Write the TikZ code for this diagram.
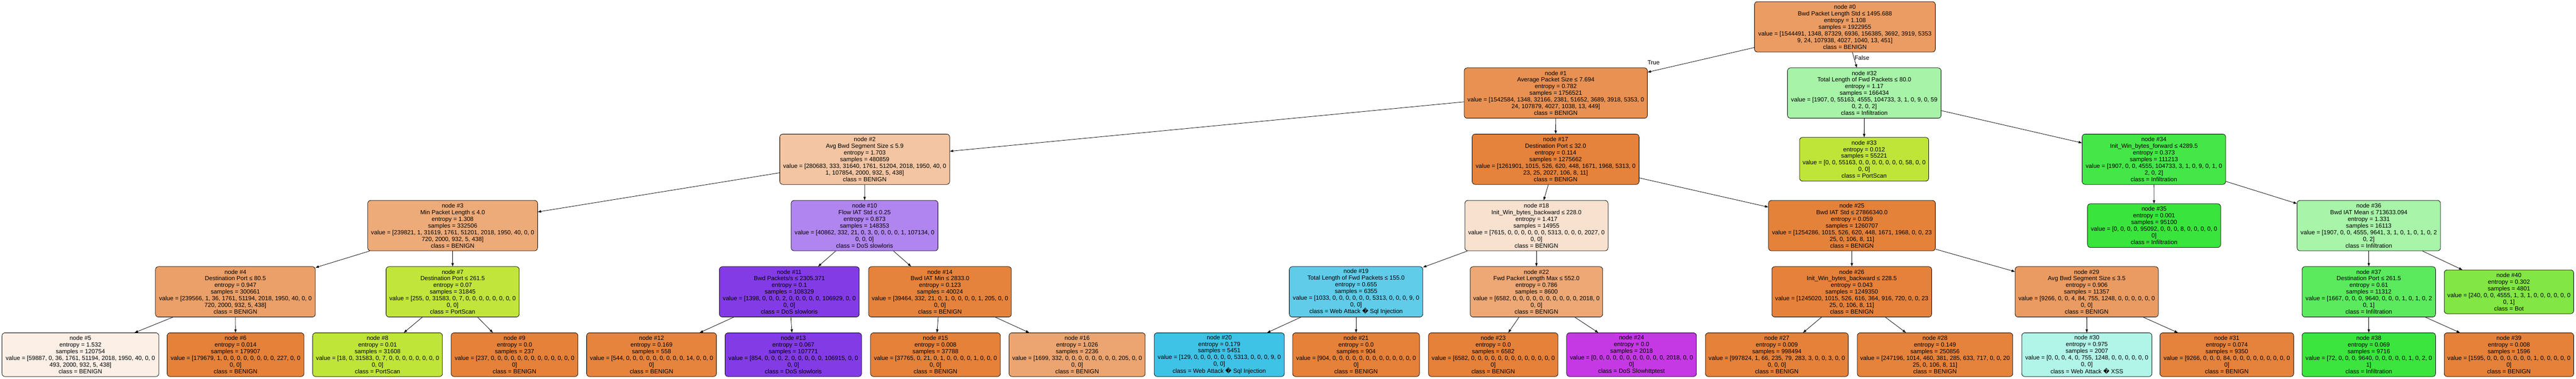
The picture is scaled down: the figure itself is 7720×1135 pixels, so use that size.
\documentclass[tikz,border=0pt]{standalone}
\usepackage{fontspec}
\setmainfont{Liberation Sans}
\newfontfamily\djv{DejaVu Sans}
\usetikzlibrary{arrows.meta}
\definecolor{k0}{RGB}{229,129,57}
\definecolor{k2}{RGB}{192,229,57}
\definecolor{k3}{RGB}{123,229,57}
\definecolor{k4}{RGB}{57,229,60}
\definecolor{k6}{RGB}{57,229,197}
\definecolor{k7}{RGB}{57,192,229}
\definecolor{k10}{RGB}{129,57,229}
\definecolor{k11}{RGB}{197,57,229}
\newcommand\mkcol[5]{\edef\mkcoltmp{\fpeval{round(100*(#3-#4)/(#5-#4),2)}}\colorlet{#1}{#2!\mkcoltmp!white}}
\mkcol{f0}{k0}{1544491}{156385}{1922955}
\mkcol{f1}{k0}{1542584}{107879}{1756521}
\mkcol{f2}{k0}{280683}{107854}{480859}
\mkcol{f3}{k0}{239821}{51201}{332506}
\mkcol{f4}{k0}{239566}{51194}{300661}
\mkcol{f5}{k0}{59887}{51194}{120754}
\mkcol{f6}{k0}{179679}{227}{179907}
\mkcol{f7}{k2}{31583}{255}{31845}
\mkcol{f8}{k2}{31583}{18}{31608}
\mkcol{f9}{k0}{237}{0}{237}
\mkcol{f10}{k10}{107134}{40862}{148353}
\mkcol{f11}{k10}{106929}{1398}{108329}
\mkcol{f12}{k0}{544}{14}{558}
\mkcol{f13}{k10}{106915}{854}{107771}
\mkcol{f14}{k0}{39464}{332}{40024}
\mkcol{f15}{k0}{37765}{21}{37788}
\mkcol{f16}{k0}{1699}{332}{2236}
\mkcol{f17}{k0}{1261901}{5313}{1275662}
\mkcol{f18}{k0}{7615}{5313}{14955}
\mkcol{f19}{k7}{5313}{1033}{6355}
\mkcol{f20}{k7}{5313}{129}{5451}
\mkcol{f21}{k0}{904}{0}{904}
\mkcol{f22}{k0}{6582}{2018}{8600}
\mkcol{f23}{k0}{6582}{0}{6582}
\mkcol{f24}{k11}{2018}{0}{2018}
\mkcol{f25}{k0}{1254286}{1968}{1260707}
\mkcol{f26}{k0}{1245020}{1015}{1249350}
\mkcol{f27}{k0}{997824}{283}{998494}
\mkcol{f28}{k0}{247196}{1014}{250856}
\mkcol{f29}{k0}{9266}{1248}{11357}
\mkcol{f30}{k6}{1248}{755}{2007}
\mkcol{f31}{k0}{9266}{84}{9350}
\mkcol{f32}{k4}{104733}{55163}{166434}
\mkcol{f33}{k2}{55163}{58}{55221}
\mkcol{f34}{k4}{104733}{4555}{111213}
\mkcol{f35}{k4}{95092}{8}{95100}
\mkcol{f36}{k4}{9641}{4555}{16113}
\mkcol{f37}{k4}{9640}{1667}{11312}
\mkcol{f38}{k4}{9640}{72}{9716}
\mkcol{f39}{k0}{1595}{1}{1596}
\mkcol{f40}{k3}{4555}{240}{4801}
\newcommand\rep{{\djv\symbol{"FFFD}}}
\tikzset{
  tn/.style={draw=black, line width=1.2pt, rounded corners=9pt, align=center,
    inner xsep=3pt, inner ysep=0pt, font=\fontsize{18}{20}\selectfont},
  s7/.style={minimum height=151pt},
  s6/.style={minimum height=131pt},
  conn/.style={draw=black, line width=1.2pt, -{Triangle[length=10pt,width=7pt]}},
  lbl/.style={font=\fontsize{18}{20}\selectfont, inner sep=0pt}
}
\begin{document}
\begin{tikzpicture}[x=1pt,y=-1pt]
\useasboundingbox (0,0) rectangle (7720,1135);
% row 0
\node[tn,s7,fill=f0,minimum width=542pt] (n0) at (5529,80.5) {node \#0\\Bwd Packet Length Std ≤ 1495.688\\entropy = 1.108\\samples = 1922955\\value = [1544491, 1348, 87329, 6936, 156385, 3692, 3919, 5353\\9, 24, 107938, 4027, 1040, 13, 451]\\class = BENIGN};
% row 1
\node[tn,s7,fill=f1,minimum width=549pt] (n1) at (4662.5,279) {node \#1\\Average Packet Size ≤ 7.694\\entropy = 0.782\\samples = 1756521\\value = [1542584, 1348, 32166, 2381, 51652, 3689, 3918, 5353, 0\\24, 107879, 4027, 1038, 13, 449]\\class = BENIGN};
\node[tn,s7,fill=f32,minimum width=460pt] (n32) at (5587,279) {node \#32\\Total Length of Fwd Packets ≤ 80.0\\entropy = 1.17\\samples = 166434\\value = [1907, 0, 55163, 4555, 104733, 3, 1, 0, 9, 0, 59\\0, 2, 0, 2]\\class = Infiltration};
% row 2
\node[tn,s7,fill=f2,minimum width=509pt] (n2) at (2591.5,477.5) {node \#2\\Avg Bwd Segment Size ≤ 5.9\\entropy = 1.703\\samples = 480859\\value = [280683, 333, 31640, 1761, 51204, 2018, 1950, 40, 0\\1, 107854, 2000, 932, 5, 438]\\class = BENIGN};
\node[tn,s7,fill=f17,minimum width=500pt] (n17) at (4662,477.5) {node \#17\\Destination Port ≤ 32.0\\entropy = 0.114\\samples = 1275662\\value = [1261901, 1015, 526, 620, 448, 1671, 1968, 5313, 0\\23, 25, 2027, 106, 8, 11]\\class = BENIGN};
\node[tn,s6,fill=f33,minimum width=387pt] (n33) at (5586.5,477.5) {node \#33\\entropy = 0.012\\samples = 55221\\value = [0, 0, 55163, 0, 0, 0, 0, 0, 0, 0, 58, 0, 0\\0, 0]\\class = PortScan};
\node[tn,s7,fill=f34,minimum width=430pt] (n34) at (6455,477.5) {node \#34\\Init\_Win\_bytes\_forward ≤ 4289.5\\entropy = 0.373\\samples = 111213\\value = [1907, 0, 0, 4555, 104733, 3, 1, 0, 9, 0, 1, 0\\2, 0, 2]\\class = Infiltration};
% row 3
\node[tn,s7,fill=f3,minimum width=509pt] (n3) at (1356.5,676.5) {node \#3\\Min Packet Length ≤ 4.0\\entropy = 1.308\\samples = 332506\\value = [239821, 1, 31619, 1761, 51201, 2018, 1950, 40, 0, 0\\720, 2000, 932, 5, 438]\\class = BENIGN};
\node[tn,s7,fill=f10,minimum width=440pt] (n10) at (2591,676.5) {node \#10\\Flow IAT Std ≤ 0.25\\entropy = 0.873\\samples = 148353\\value = [40862, 332, 21, 0, 3, 0, 0, 0, 0, 1, 107134, 0\\0, 0, 0]\\class = DoS slowloris};
\node[tn,s7,fill=f18,minimum width=429pt] (n18) at (4604.5,676.5) {node \#18\\Init\_Win\_bytes\_backward ≤ 228.0\\entropy = 1.417\\samples = 14955\\value = [7615, 0, 0, 0, 0, 0, 0, 5313, 0, 0, 0, 2027, 0\\0, 0]\\class = BENIGN};
\node[tn,s7,fill=f25,minimum width=500pt] (n25) at (5550,676.5) {node \#25\\Bwd IAT Std ≤ 27866340.0\\entropy = 0.059\\samples = 1260707\\value = [1254286, 1015, 526, 620, 448, 1671, 1968, 0, 0, 23\\25, 0, 106, 8, 11]\\class = BENIGN};
\node[tn,s6,fill=f35,minimum width=399pt] (n35) at (6455.5,676.5) {node \#35\\entropy = 0.001\\samples = 95100\\value = [0, 0, 0, 0, 95092, 0, 0, 0, 8, 0, 0, 0, 0, 0\\0]\\class = Infiltration};
\node[tn,s7,fill=f36,minimum width=430pt] (n36) at (7099,676.5) {node \#36\\Bwd IAT Mean ≤ 713633.094\\entropy = 1.331\\samples = 16113\\value = [1907, 0, 0, 4555, 9641, 3, 1, 0, 1, 0, 1, 0, 2\\0, 2]\\class = Infiltration};
% row 4
\node[tn,s7,fill=f4,minimum width=479pt] (n4) at (705.5,875) {node \#4\\Destination Port ≤ 80.5\\entropy = 0.947\\samples = 300661\\value = [239566, 1, 36, 1761, 51194, 2018, 1950, 40, 0, 0\\720, 2000, 932, 5, 438]\\class = BENIGN};
\node[tn,s7,fill=f7,minimum width=399pt] (n7) at (1356.5,875) {node \#7\\Destination Port ≤ 261.5\\entropy = 0.07\\samples = 31845\\value = [255, 0, 31583, 0, 7, 0, 0, 0, 0, 0, 0, 0, 0\\0, 0]\\class = PortScan};
\node[tn,s7,fill=f11,minimum width=419pt] (n11) at (2365.5,875) {node \#11\\Bwd Packets/s ≤ 2305.371\\entropy = 0.1\\samples = 108329\\value = [1398, 0, 0, 0, 2, 0, 0, 0, 0, 0, 106929, 0, 0\\0, 0]\\class = DoS slowloris};
\node[tn,s7,fill=f14,minimum width=428pt] (n14) at (2817,875) {node \#14\\Bwd IAT Min ≤ 2833.0\\entropy = 0.123\\samples = 40024\\value = [39464, 332, 21, 0, 1, 0, 0, 0, 0, 1, 205, 0, 0\\0, 0]\\class = BENIGN};
\node[tn,s7,fill=f19,minimum width=400pt] (n19) at (4064,875) {node \#19\\Total Length of Fwd Packets ≤ 155.0\\entropy = 0.655\\samples = 6355\\value = [1033, 0, 0, 0, 0, 0, 0, 5313, 0, 0, 0, 9, 0\\0, 0]\\class = Web Attack \rep{} Sql Injection};
\node[tn,s7,fill=f22,minimum width=397pt] (n22) at (4604.5,875) {node \#22\\Fwd Packet Length Max ≤ 552.0\\entropy = 0.786\\samples = 8600\\value = [6582, 0, 0, 0, 0, 0, 0, 0, 0, 0, 0, 2018, 0\\0, 0]\\class = BENIGN};
\node[tn,s7,fill=f26,minimum width=479pt] (n26) at (5549.5,875) {node \#26\\Init\_Win\_bytes\_backward ≤ 228.5\\entropy = 0.043\\samples = 1249350\\value = [1245020, 1015, 526, 616, 364, 916, 720, 0, 0, 23\\25, 0, 106, 8, 11]\\class = BENIGN};
\node[tn,s7,fill=f29,minimum width=429pt] (n29) at (6253.5,875) {node \#29\\Avg Bwd Segment Size ≤ 3.5\\entropy = 0.906\\samples = 11357\\value = [9266, 0, 0, 4, 84, 755, 1248, 0, 0, 0, 0, 0, 0\\0, 0]\\class = BENIGN};
\node[tn,s7,fill=f37,minimum width=400pt] (n37) at (7099,875) {node \#37\\Destination Port ≤ 261.5\\entropy = 0.61\\samples = 11312\\value = [1667, 0, 0, 0, 9640, 0, 0, 0, 1, 0, 1, 0, 2\\0, 1]\\class = Infiltration};
\node[tn,s6,fill=f40,minimum width=388pt] (n40) at (7519,875) {node \#40\\entropy = 0.302\\samples = 4801\\value = [240, 0, 0, 4555, 1, 3, 1, 0, 0, 0, 0, 0, 0\\0, 1]\\class = Bot};
% row 5
\node[tn,s6,fill=f5,minimum width=470pt] (n5) at (241,1063.5) {node \#5\\entropy = 1.532\\samples = 120754\\value = [59887, 0, 36, 1761, 51194, 2018, 1950, 40, 0, 0\\493, 2000, 932, 5, 438]\\class = BENIGN};
\node[tn,s6,fill=f6,minimum width=410pt] (n6) at (706,1063.5) {node \#6\\entropy = 0.014\\samples = 179907\\value = [179679, 1, 0, 0, 0, 0, 0, 0, 0, 0, 227, 0, 0\\0, 0]\\class = BENIGN};
\node[tn,s6,fill=f8,minimum width=389pt] (n8) at (1131.5,1063.5) {node \#8\\entropy = 0.01\\samples = 31608\\value = [18, 0, 31583, 0, 7, 0, 0, 0, 0, 0, 0, 0, 0\\0, 0]\\class = PortScan};
\node[tn,s6,fill=f9,minimum width=380pt] (n9) at (1542,1063.5) {node \#9\\entropy = 0.0\\samples = 237\\value = [237, 0, 0, 0, 0, 0, 0, 0, 0, 0, 0, 0, 0, 0\\0]\\class = BENIGN};
\node[tn,s6,fill=f12,minimum width=389pt] (n12) at (1952.5,1063.5) {node \#12\\entropy = 0.169\\samples = 558\\value = [544, 0, 0, 0, 0, 0, 0, 0, 0, 0, 14, 0, 0, 0\\0]\\class = BENIGN};
\node[tn,s6,fill=f13,minimum width=409pt] (n13) at (2377.5,1063.5) {node \#13\\entropy = 0.067\\samples = 107771\\value = [854, 0, 0, 0, 2, 0, 0, 0, 0, 0, 106915, 0, 0\\0, 0]\\class = DoS slowloris};
\node[tn,s6,fill=f15,minimum width=389pt] (n15) at (2803.5,1063.5) {node \#15\\entropy = 0.008\\samples = 37788\\value = [37765, 0, 21, 0, 1, 0, 0, 0, 0, 1, 0, 0, 0\\0, 0]\\class = BENIGN};
\node[tn,s6,fill=f16,minimum width=408pt] (n16) at (3228,1063.5) {node \#16\\entropy = 1.026\\samples = 2236\\value = [1699, 332, 0, 0, 0, 0, 0, 0, 0, 0, 205, 0, 0\\0, 0]\\class = BENIGN};
\node[tn,s6,fill=f20,minimum width=390pt] (n20) at (3654,1063.5) {node \#20\\entropy = 0.179\\samples = 5451\\value = [129, 0, 0, 0, 0, 0, 0, 5313, 0, 0, 0, 9, 0\\0, 0]\\class = Web Attack \rep{} Sql Injection};
\node[tn,s6,fill=f21,minimum width=380pt] (n21) at (4064,1063.5) {node \#21\\entropy = 0.0\\samples = 904\\value = [904, 0, 0, 0, 0, 0, 0, 0, 0, 0, 0, 0, 0, 0\\0]\\class = BENIGN};
\node[tn,s6,fill=f23,minimum width=388pt] (n23) at (4475,1063.5) {node \#23\\entropy = 0.0\\samples = 6582\\value = [6582, 0, 0, 0, 0, 0, 0, 0, 0, 0, 0, 0, 0, 0\\0]\\class = BENIGN};
\node[tn,s6,fill=f24,minimum width=389pt] (n24) at (4889.5,1063.5) {node \#24\\entropy = 0.0\\samples = 2018\\value = [0, 0, 0, 0, 0, 0, 0, 0, 0, 0, 0, 2018, 0, 0\\0]\\class = DoS Slowhttptest};
\node[tn,s6,fill=f27,minimum width=428pt] (n27) at (5325,1063.5) {node \#27\\entropy = 0.009\\samples = 998494\\value = [997824, 1, 66, 235, 79, 283, 3, 0, 0, 3, 0, 0\\0, 0, 0]\\class = BENIGN};
\node[tn,s6,fill=f28,minimum width=466pt] (n28) at (5799,1063.5) {node \#28\\entropy = 0.149\\samples = 250856\\value = [247196, 1014, 460, 381, 285, 633, 717, 0, 0, 20\\25, 0, 106, 8, 11]\\class = BENIGN};
\node[tn,s6,fill=f30,minimum width=390pt] (n30) at (6254,1063.5) {node \#30\\entropy = 0.975\\samples = 2007\\value = [0, 0, 0, 4, 0, 755, 1248, 0, 0, 0, 0, 0, 0\\0, 0]\\class = Web Attack \rep{} XSS};
\node[tn,s6,fill=f31,minimum width=401pt] (n31) at (6673.5,1063.5) {node \#31\\entropy = 0.074\\samples = 9350\\value = [9266, 0, 0, 0, 84, 0, 0, 0, 0, 0, 0, 0, 0, 0\\0]\\class = BENIGN};
\node[tn,s6,fill=f38,minimum width=400pt] (n38) at (7099,1063.5) {node \#38\\entropy = 0.069\\samples = 9716\\value = [72, 0, 0, 0, 9640, 0, 0, 0, 0, 0, 1, 0, 2, 0\\1]\\class = Infiltration};
\node[tn,s6,fill=f39,minimum width=388pt] (n39) at (7519,1063.5) {node \#39\\entropy = 0.008\\samples = 1596\\value = [1595, 0, 0, 0, 0, 0, 0, 0, 1, 0, 0, 0, 0, 0\\0]\\class = BENIGN};
% edge labels
\node[lbl] (ltrue) at (4955.5,187) {True};
\node[lbl] (lfalse) at (5580,174) {False};
% connectors
\foreach \a/\b in {0/1,0/32,1/2,1/17,2/3,2/10,3/4,3/7,4/5,4/6,7/8,7/9,10/11,10/14,11/12,11/13,14/15,14/16,17/18,17/25,18/19,18/22,19/20,19/21,22/23,22/24,25/26,25/29,26/27,26/28,29/30,29/31,32/33,32/34,34/35,34/36,36/37,36/40,37/38,37/39}
  \draw[conn] (n\a) -- (n\b);
\end{tikzpicture}
\end{document}
